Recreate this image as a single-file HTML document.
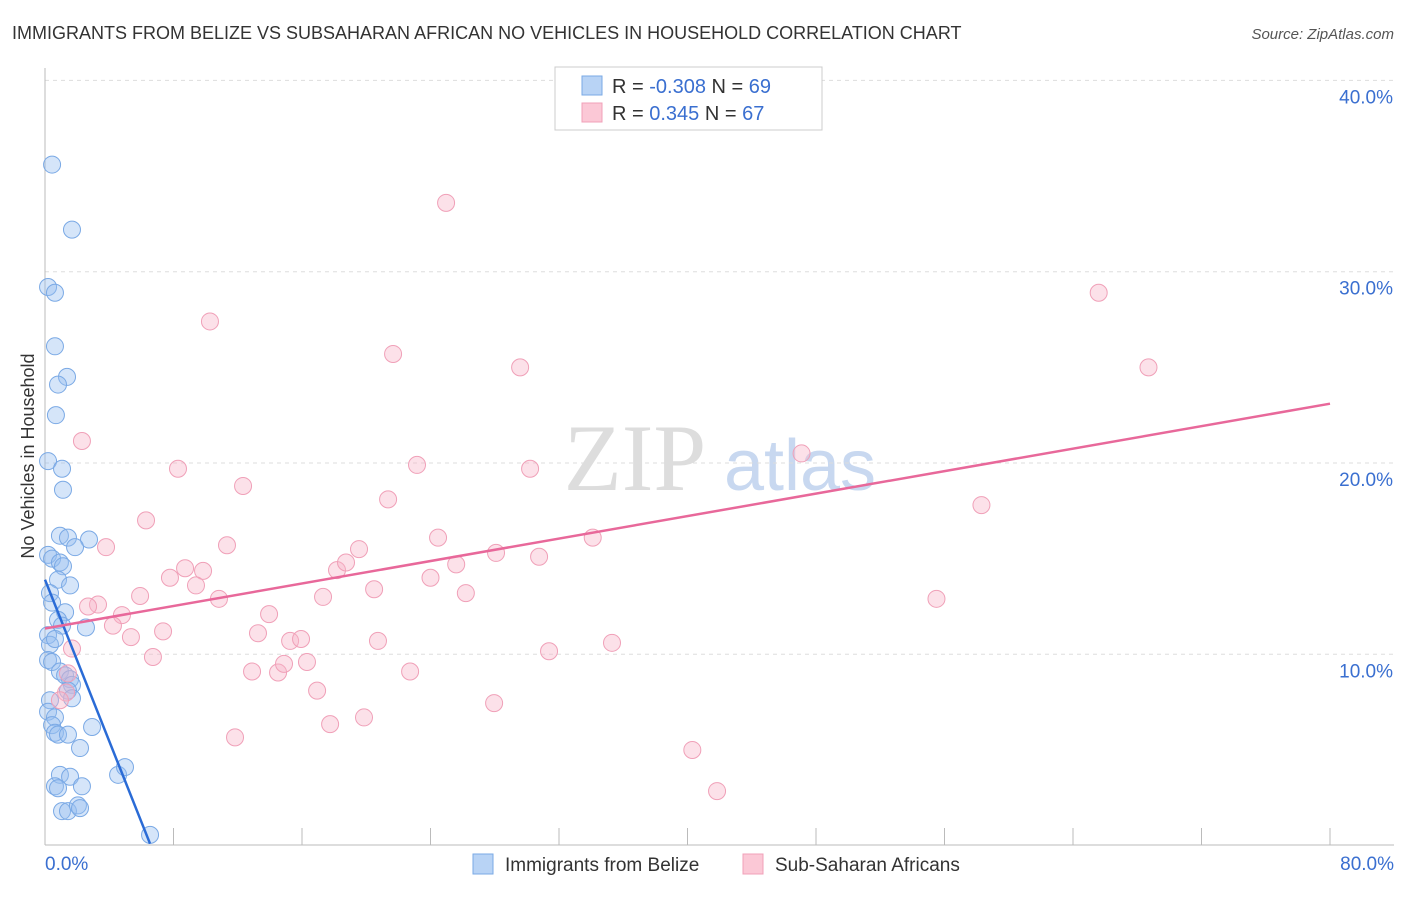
<!DOCTYPE html>
<html><head><meta charset="utf-8"><style>
body{margin:0;background:#fff;font-family:"Liberation Sans",sans-serif}
</style></head><body>
<svg id="chart" width="1406" height="892" xmlns="http://www.w3.org/2000/svg" font-family="Liberation Sans, sans-serif">
<text x="12" y="39" font-size="18" fill="#333">IMMIGRANTS FROM BELIZE VS SUBSAHARAN AFRICAN NO VEHICLES IN HOUSEHOLD CORRELATION CHART</text>
<text x="1394" y="39" font-size="15" fill="#555" text-anchor="end" font-style="italic">Source: ZipAtlas.com</text>
<g>
<text x="635" y="490" font-size="95" fill="#ddd" font-family="Liberation Serif, serif" text-anchor="middle">ZIP</text>
<text x="800" y="490" font-size="72" fill="#c8d8f0" text-anchor="middle">atlas</text>
</g>
<g id="grid"></g><g id="axes"></g><g id="pts"></g><g id="lines"></g>
<g>
<rect x="555" y="67" width="267" height="63" fill="#fff" stroke="#ccc"/>
<rect x="582" y="76" width="20" height="19" fill="#b8d3f5" stroke="#7aa9e5"/>
<rect x="582" y="103" width="20" height="19" fill="#fbc8d6" stroke="#f0a0b8"/>
<text x="612" y="93" font-size="20" fill="#333">R = <tspan fill="#3a6fd0">-0.308</tspan>   N = <tspan fill="#3a6fd0">69</tspan></text>
<text x="612" y="120" font-size="20" fill="#333">R =  <tspan fill="#3a6fd0"> 0.345</tspan>   N = <tspan fill="#3a6fd0">67</tspan></text>
</g>
<g>
<rect x="473" y="854" width="20" height="20" fill="#b8d3f5" stroke="#7aa9e5"/>
<text x="505" y="871" font-size="19" fill="#333">Immigrants from Belize</text>
<rect x="743" y="854" width="20" height="20" fill="#fbc8d6" stroke="#f0a0b8"/>
<text x="775" y="871" font-size="19" fill="#333">Sub-Saharan Africans</text>
</g>
<text transform="translate(34,456) rotate(-90)" font-size="18" fill="#333" text-anchor="middle">No Vehicles in Household</text>
</svg>
<script>
const belizeX=[0.44,1.68,0.19,0.62,0.62,1.37,0.81,0.68,0.19,1.06,1.12,0.93,1.43,2.74,1.87,0.19,0.44,0.93,1.12,0.81,1.56,0.31,0.44,1.25,0.81,1.06,2.55,0.19,0.31,0.62,0.19,0.44,0.93,1.25,1.56,1.68,1.43,1.68,0.31,0.19,0.62,0.44,0.62,0.81,1.43,2.93,2.18,0.93,1.56,0.62,0.81,2.3,4.55,4.98,1.06,1.43,2.05,2.18,6.54];
const belizeY=[35.6,32.2,29.2,28.9,26.1,24.5,24.1,22.5,20.1,19.7,18.6,16.2,16.1,16.0,15.6,15.2,15.0,14.8,14.6,13.9,13.6,13.2,12.7,12.2,11.8,11.5,11.4,11.0,10.5,10.8,9.7,9.6,9.1,8.9,8.7,8.4,8.1,7.7,7.6,7.0,6.7,6.3,5.9,5.8,5.8,6.2,5.1,3.7,3.6,3.1,3.0,3.1,3.7,4.1,1.8,1.8,2.1,1.96,0.56];
const subX=[40.6,24.97,65.6,10.27,21.67,29.58,68.7,2.3,8.28,23.16,30.2,47.1,12.33,21.36,58.3,6.29,24.47,34.1,11.33,3.8,19.55,28.08,30.76,8.72,9.84,25.6,18.18,18.74,7.78,24.0,9.4,20.49,5.92,26.2,17.31,10.83,55.5,3.3,2.68,4.79,4.23,13.95,7.35,13.26,5.35,15.26,15.94,20.73,35.3,31.38,6.72,1.68,12.89,14.51,14.88,16.31,22.73,1.43,16.94,1.31,0.93,27.96,17.75,19.86,11.83,40.3,41.84];
const subY=[37.9,33.6,28.9,27.4,25.7,25.0,25.0,21.15,19.7,19.9,19.7,20.5,18.8,18.1,17.8,17.0,16.1,16.1,15.7,15.6,15.5,15.3,15.1,14.5,14.36,14.7,14.4,14.8,14.0,14.0,13.6,13.4,13.05,13.2,13.0,12.9,12.9,12.6,12.5,12.05,11.5,12.1,11.2,11.1,10.9,10.7,10.8,10.7,10.6,10.16,9.86,10.3,9.1,9.05,9.5,9.6,9.1,9.0,8.1,8.0,7.6,7.45,6.35,6.7,5.66,5.0,2.85];
const belizeTrend=[0,13.9,6.54,0.1];
const subTrend=[0,11.35,80,23.1];
const yTicks=[10,20,30,40];
const xTickLabels=["0.0%","80.0%"];
const NS="http://www.w3.org/2000/svg";
const X=v=>45+v*(1330-45)/80;
const Y=v=>845.6-v*19.13;
function mk(t,a,p){const e=document.createElementNS(NS,t);for(const k in a)e.setAttribute(k,a[k]);p.appendChild(e);return e;}
const grid=document.getElementById('grid'),axes=document.getElementById('axes'),pts=document.getElementById('pts'),lines=document.getElementById('lines');
yTicks.forEach(v=>{
 const l=mk('line',{x1:45,x2:1394,y1:Y(v),y2:Y(v),stroke:'#ddd','stroke-dasharray':'4,4'},grid);
 
 
 const t=mk('text',{x:1393,y:Y(v)+23,'font-size':19,fill:'#3a6fd0','text-anchor':'end'},axes);
 t.textContent=v.toFixed(1)+'%';
 
 
});
const ax=mk('line',{x1:45,x2:45,y1:68,y2:845,stroke:'#bbb'},axes);


const bx=mk('line',{x1:45,x2:1394,y1:845,y2:845,stroke:'#bbb'},axes);


for(let i=0;i<=10;i++){const tk=mk('line',{x1:X(i*8),x2:X(i*8),y1:828,y2:845,stroke:'#bbb'},axes);
 
 }
[[0,'start',45],[80,'end',1394]].forEach((d,i)=>{const t=mk('text',{x:d[2],y:870,'font-size':19,fill:'#3a6fd0','text-anchor':d[1]},axes);t.textContent=xTickLabels[i];
 
 });
belizeX.forEach((x,i)=>{const c=mk('circle',{cx:X(x),cy:Y(belizeY[i]),r:8.5,fill:'rgba(150,190,240,0.4)',stroke:'#7aa9e5','stroke-width':1},pts);
 
 });
subX.forEach((x,i)=>{const c=mk('circle',{cx:X(x),cy:Y(subY[i]),r:8.5,fill:'rgba(248,180,200,0.4)',stroke:'#f0a0b8','stroke-width':1},pts);
 
 });
const bl=mk('line',{x1:X(belizeTrend[0]),y1:Y(belizeTrend[1]),x2:X(belizeTrend[2]),y2:Y(belizeTrend[3]),stroke:'#2a6bd6','stroke-width':2.5},lines);


const sl=mk('line',{x1:X(subTrend[0]),y1:Y(subTrend[1]),x2:X(subTrend[2]),y2:Y(subTrend[3]),stroke:'#e8689a','stroke-width':2.5},lines);


</script>
</body></html>
